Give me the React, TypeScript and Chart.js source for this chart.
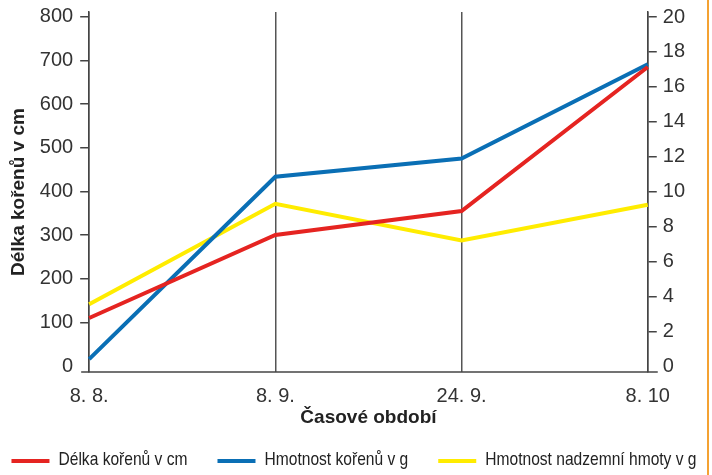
import React, { useEffect, useRef } from "react";
import { Chart, registerables } from "chart.js";

Chart.register(...registerables);

const categories = ["8. 8.", "8. 9.", "24. 9.", "8. 10"];
const rootLength = [110, 300, 355, 685];
const rootMass = [0.4, 10.85, 11.9, 17.3];
const shootMass = [3.55, 9.3, 7.2, 9.25];

const seriesLabels = ["Délka kořenů v cm", "Hmotnost kořenů v g", "Hmotnost nadzemní hmoty v g"];
const seriesColors = ["#e52421", "#0a6fb5", "#ffec00"];

const leftTickValues = [0, 100, 200, 300, 400, 500, 600, 700, 800];
const rightTickValues = [0, 2, 4, 6, 8, 10, 12, 14, 16, 18, 20];
const leftMin = -14;
const leftMax = 811;
const rightMin = -0.34;
const rightMax = 20.29;

const axisTitle = "Délka kořenů v cm";
const xTitle = "Časové období";

const FONT = '"Liberation Sans", Arial, sans-serif';

const axisExtend = {
  id: "axisExtend",
  afterDatasetsDraw(chart: any) {
    const { ctx, chartArea } = chart;
    ctx.save();
    ctx.strokeStyle = "#444";
    ctx.lineWidth = 1.5;
    ctx.beginPath();
    ctx.moveTo(chartArea.left - 8, chartArea.bottom);
    ctx.lineTo(chartArea.right + 10, chartArea.bottom);
    ctx.stroke();
    ctx.restore();
  },
};

const lineLegend = {
  id: "lineLegend",
  afterDraw(chart: any) {
    const { ctx } = chart;
    const ds = chart.data.datasets;
    const squeeze = 0.82;
    ctx.save();
    ctx.font = "19px " + FONT;
    ctx.textBaseline = "middle";
    ctx.textAlign = "left";
    const box = 38;
    const gap = 9;
    const between = 30;
    const widths = ds.map((d: any) => ctx.measureText(d.label).width * squeeze);
    const total = widths.reduce((a: number, w: number) => a + box + gap + w, 0) + between * (ds.length - 1);
    let x = 354 - total / 2;
    const cy = 461;
    ds.forEach((d: any, i: number) => {
      ctx.fillStyle = d.borderColor;
      ctx.fillRect(x, cy - 2, box, 4);
      ctx.save();
      ctx.translate(x + box + gap, cy - 1);
      ctx.scale(squeeze, 1);
      ctx.fillStyle = "#222";
      ctx.fillText(d.label, 0, 0);
      ctx.restore();
      x += box + gap + widths[i] + between;
    });
    ctx.restore();
  },
};

export default function App() {
  const ref = useRef<HTMLCanvasElement | null>(null);

  useEffect(() => {
    document.body.style.margin = "0";
    if (!ref.current) return;
    const tickColor = (ctx: any) => (ctx.tick && ctx.tick.value === 0 ? "rgba(0,0,0,0)" : "#444");
    const chart = new Chart(ref.current, {
      type: "line",
      data: {
        labels: categories,
        datasets: [
          { label: seriesLabels[0], data: rootLength, borderColor: seriesColors[0], backgroundColor: seriesColors[0], yAxisID: "y", borderWidth: 4, pointRadius: 0, tension: 0 },
          { label: seriesLabels[1], data: rootMass, borderColor: seriesColors[1], backgroundColor: seriesColors[1], yAxisID: "y1", borderWidth: 4, pointRadius: 0, tension: 0 },
          { label: seriesLabels[2], data: shootMass, borderColor: seriesColors[2], backgroundColor: seriesColors[2], yAxisID: "y1", borderWidth: 4, pointRadius: 0, tension: 0 },
        ],
      },
      options: {
        responsive: false,
        animation: false,
        layout: { padding: { left: 7, right: 21, top: 12, bottom: 45.5 } },
        plugins: { legend: { display: false }, tooltip: { enabled: false } },
        scales: {
          x: {
            type: "category",
            offset: false,
            grid: { display: true, drawOnChartArea: true, drawTicks: false, color: "#555", lineWidth: 1.5 },
            border: { display: false },
            ticks: { padding: 12, color: "#333", font: { family: FONT, size: 20 }, maxRotation: 0, autoSkip: false },
            title: { display: true, text: xTitle, color: "#222", font: { family: FONT, size: 19, weight: "bold" }, padding: { top: -13.4, bottom: 0 } },
          },
          y: {
            type: "linear",
            position: "left",
            min: leftMin,
            max: leftMax,
            afterBuildTicks: (axis: any) => {
              axis.ticks = leftTickValues.map((v) => ({ value: v }));
            },
            ticks: { padding: 7, color: "#333", font: { family: FONT, size: 20, lineHeight: 0.5 } },
            grid: { drawOnChartArea: false, drawTicks: true, tickLength: 9, color: tickColor, lineWidth: 1.5 },
            border: { display: true, color: "#444", width: 1.5 },
            title: { display: true, text: axisTitle, color: "#222", font: { family: FONT, size: 19, weight: "bold" }, padding: { top: 0, bottom: 3 } },
          },
          y1: {
            type: "linear",
            position: "right",
            min: rightMin,
            max: rightMax,
            afterBuildTicks: (axis: any) => {
              axis.ticks = rightTickValues.map((v) => ({ value: v }));
            },
            ticks: { padding: 6, color: "#333", font: { family: FONT, size: 20, lineHeight: 0.5 } },
            grid: { drawOnChartArea: false, drawTicks: true, tickLength: 9, color: tickColor, lineWidth: 1.5 },
            border: { display: true, color: "#444", width: 1.5 },
          },
        },
      },
      plugins: [axisExtend, lineLegend],
    });
    return () => chart.destroy();
  }, []);

  return (
    <div style={{ position: "relative", width: 712, height: 475, background: "#fff" }}>
      <canvas ref={ref} width={712} height={475} style={{ display: "block" }} />
      <div style={{ position: "absolute", left: 707, top: 0, width: 2, height: 475, background: "#f4a233" }} />
    </div>
  );
}
